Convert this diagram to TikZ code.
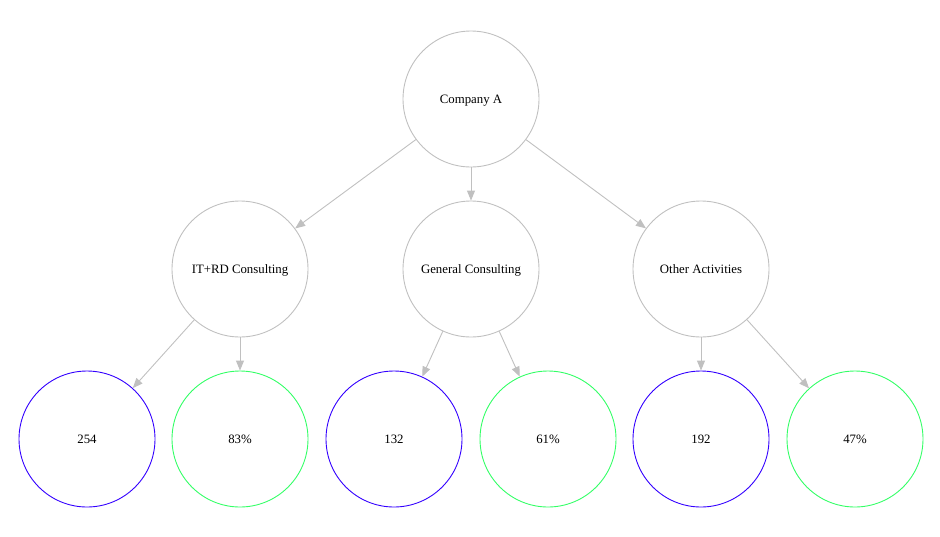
\documentclass[tikz,border=0pt]{standalone}
\usepackage{fontspec}
\setmainfont{Liberation Serif}
\usetikzlibrary{arrows.meta}
\definecolor{edgegray}{RGB}{192,192,192}
\definecolor{nodeblue}{RGB}{51,0,255}
\definecolor{nodegreen}{RGB}{51,255,102}
\tikzset{
  circ/.style={circle,draw,line width=0.9pt,minimum size=136pt,inner sep=0pt,text height=8.8pt,text depth=0pt,font=\fontsize{12.8}{14}\selectfont},
  graynode/.style={circ,draw=edgegray},
  bluenode/.style={circ,draw=nodeblue},
  greennode/.style={circ,draw=nodegreen},
  conn/.style={draw=edgegray,line width=0.9pt,-{Triangle[length=10pt,width=8pt,fill=edgegray]}}
}
\begin{document}
\begin{tikzpicture}[x=1pt,y=-1pt]
\useasboundingbox (0,0) rectangle (940,536);
\node[graynode] (A) at (471,99) {Company A};
\node[graynode] (IT) at (240,269) {IT+RD Consulting};
\node[graynode] (GC) at (471,269) {General Consulting};
\node[graynode] (OA) at (701,269) {Other Activities};
\node[bluenode] (b1) at (87,439) {254};
\node[greennode] (g1) at (240,439) {83\%};
\node[bluenode] (b2) at (394,439) {132};
\node[greennode] (g2) at (548,439) {61\%};
\node[bluenode] (b3) at (701,439) {192};
\node[greennode] (g3) at (855,439) {47\%};
\draw[conn] (A) -- (IT);
\draw[conn] (A) -- (GC);
\draw[conn] (A) -- (OA);
\draw[conn] (IT) -- (b1);
\draw[conn] (IT) -- (g1);
\draw[conn] (GC) -- (b2);
\draw[conn] (GC) -- (g2);
\draw[conn] (OA) -- (b3);
\draw[conn] (OA) -- (g3);
\end{tikzpicture}
\end{document}
